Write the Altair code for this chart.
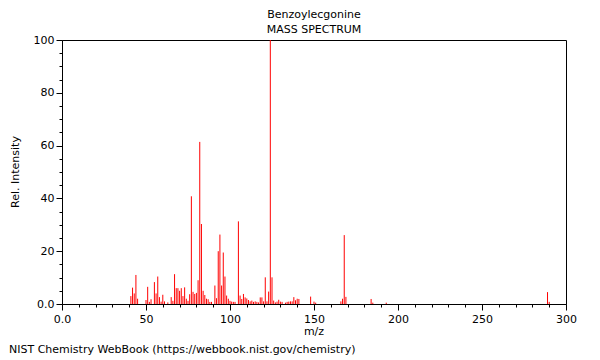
import altair as alt
import pandas as pd

# ---- data ----
mz = [41, 42, 43, 44, 45, 50, 51, 52, 53, 55, 56, 57, 58, 59, 60, 61, 63, 65, 66,
      67, 68, 69, 70, 71, 72, 73, 74, 75, 76, 77, 78, 79, 80, 81, 82, 83, 84, 85,
      86, 87, 88, 89, 91, 92, 93, 94, 95, 96, 97, 98, 99, 100, 101, 102, 103, 105,
      106, 107, 108, 109, 110, 111, 112, 113, 114, 115, 116, 117, 118, 119, 120,
      121, 122, 123, 124, 125, 126, 127, 128, 129, 130, 131, 133, 134, 135, 136,
      137, 138, 139, 140, 141, 148, 150, 151, 166, 167, 168, 169, 184, 185, 193,
      289, 290]
intensity = [3.0, 6.2, 4.0, 11.0, 2.0, 1.5, 6.5, 0.8, 1.8, 8.3, 4.0, 10.4, 2.6, 0.9,
             3.5, 1.0, 0.6, 2.6, 1.2, 11.3, 6.0, 6.0, 5.0, 6.0, 3.0, 6.3, 2.0, 1.2,
             3.7, 40.8, 4.6, 3.8, 4.2, 9.0, 61.4, 30.3, 5.0, 3.4, 2.0, 1.8, 0.8, 0.8,
             7.0, 2.2, 20.0, 26.3, 7.0, 19.5, 10.4, 3.2, 2.0, 1.2, 0.9, 0.8, 0.8,
             31.3, 3.2, 1.9, 3.8, 2.5, 2.1, 1.5, 1.0, 1.3, 0.8, 1.0, 0.8, 0.6, 2.5,
             2.5, 1.0, 10.1, 1.0, 4.7, 100.0, 10.1, 1.3, 0.6, 0.9, 1.6, 0.9, 0.8,
             0.5, 0.8, 0.9, 1.0, 1.0, 2.6, 1.4, 2.0, 1.9, 2.8, 0.9, 0.5, 1.0, 2.0,
             26.1, 2.7, 1.9, 0.5, 0.5, 4.5, 0.8]

x_ticks = list(range(0, 301, 10))
y_ticks = list(range(0, 101, 5))

compound = "Benzoylecgonine"
subtitle = "MASS SPECTRUM"
x_title = "m/z"
y_title = "Rel. Intensity"
footer = "NIST Chemistry WebBook (https://webbook.nist.gov/chemistry)"

FONT = "DejaVu Sans"
FS = 11
W, H = 504, 264

df = pd.DataFrame({"mz": mz, "intensity": intensity})

x_enc = alt.X(
    "mz:Q",
    scale=alt.Scale(domain=[0, 300], nice=False, zero=False),
    axis=alt.Axis(
        values=x_ticks,
        labelExpr="datum.value == 0 ? '0.0' : (datum.value % 50 == 0 ? format(datum.value, 'd') : '')",
        tickSize={"condition": {"test": "datum.value % 50 == 0", "value": 6}, "value": 3},
        labelPadding=3,
        labelOverlap=False,
        labelFlush=False,
        grid=False,
        title=None,
    ),
)
y_enc = alt.Y(
    "intensity:Q",
    scale=alt.Scale(domain=[0, 100], nice=False),
    axis=alt.Axis(
        values=y_ticks,
        labelExpr="datum.value == 0 ? '0.0' : (datum.value % 20 == 0 ? format(datum.value, 'd') : '')",
        tickSize={"condition": {"test": "datum.value % 20 == 0", "value": 6}, "value": 3},
        labelPadding=2,
        labelOverlap=False,
        labelFlush=False,
        grid=False,
        title=None,
    ),
)

peaks = alt.Chart(df).mark_rule(color="#ff0000", strokeWidth=1).encode(
    x=x_enc, y=y_enc, y2=alt.datum(0)
)


def label(txt, x, y, angle=0, align="center"):
    return alt.Chart(pd.DataFrame({"t": [txt]})).mark_text(
        font=FONT, fontSize=FS, color="#000000", align=align, baseline="middle", angle=angle
    ).encode(text="t:N", x=alt.value(x), y=alt.value(y))


chart = alt.layer(
    peaks,
    label(compound, W / 2, -25),
    label(subtitle, W / 2, -10),
    label(x_title, W / 2, 292),
    label(y_title, -46, H / 2, angle=270),
    label(footer, -53, 310, align="left"),
).properties(
    width=W,
    height=H,
    padding={"left": 54, "top": 32, "right": 26, "bottom": 56},
    autosize=alt.AutoSizeParams(type="none"),
).configure_view(
    stroke="#000000", strokeWidth=1
).configure_axis(
    domainColor="#000000",
    tickColor="#000000",
    labelFont=FONT,
    labelFontSize=FS,
    labelColor="#000000",
)

chart.save("out.html", embed_options={"renderer": "svg", "actions": False})
